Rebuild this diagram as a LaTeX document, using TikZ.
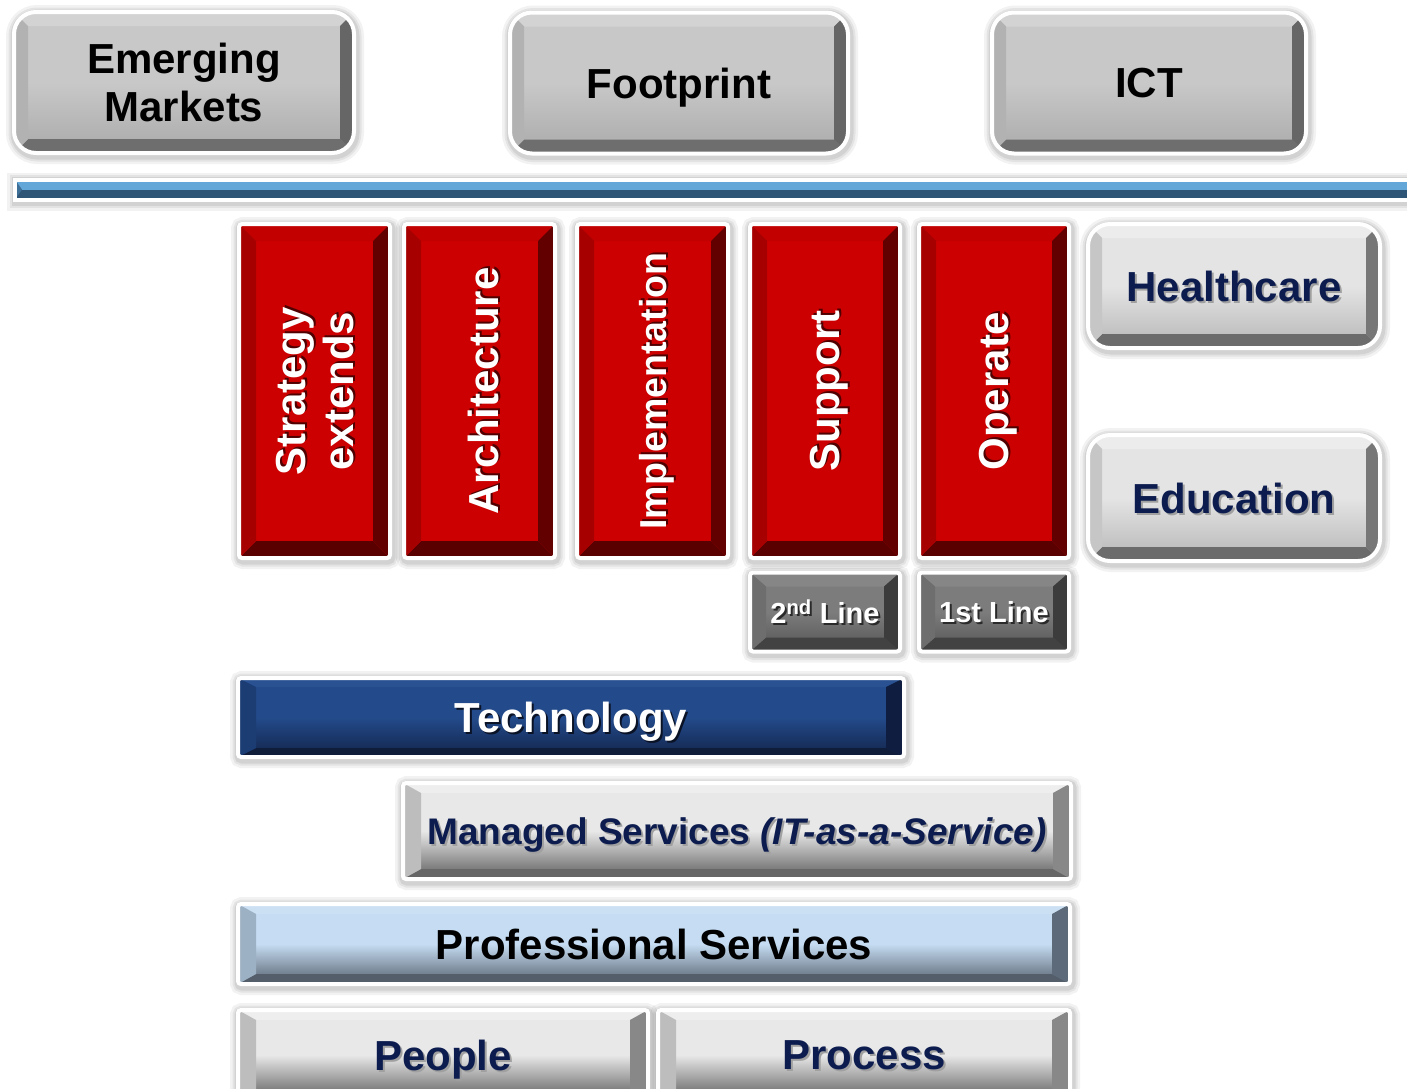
\documentclass[tikz,border=0pt]{standalone}
\usepackage{fontspec}
\setmainfont{Liberation Sans}
\usepackage{graphicx}
% colours
\definecolor{gface}{HTML}{C8C8C8}\definecolor{gtop}{HTML}{D3D3D3}\definecolor{gleft}{HTML}{B2B2B2}\definecolor{gright}{HTML}{666666}\definecolor{gbot}{HTML}{6E6E6E}
\definecolor{hface}{HTML}{E4E4E4}\definecolor{htop}{HTML}{ECECEC}\definecolor{hleft}{HTML}{C6C6C6}\definecolor{hright}{HTML}{777777}\definecolor{hbot}{HTML}{6C6C6C}
\definecolor{rface}{HTML}{CC0000}\definecolor{rtop}{HTML}{C20000}\definecolor{rleft}{HTML}{A60000}\definecolor{rright}{HTML}{620000}\definecolor{rbot}{HTML}{5A0000}\definecolor{rshadow}{HTML}{500000}
\definecolor{lface}{HTML}{7C7C7C}\definecolor{lface2}{HTML}{555555}\definecolor{ltop}{HTML}{868686}\definecolor{lleft}{HTML}{6E6E6E}\definecolor{lright}{HTML}{3C3C3C}\definecolor{lbot}{HTML}{424242}
\definecolor{tface}{HTML}{234A8A}\definecolor{tface2}{HTML}{12244A}\definecolor{ttop}{HTML}{2A5292}\definecolor{tleft}{HTML}{1C3C74}\definecolor{tright}{HTML}{0F1E40}\definecolor{tbot}{HTML}{0F1C3A}
\definecolor{mface}{HTML}{E8E8E8}\definecolor{mface2}{HTML}{5E5E5E}\definecolor{mtop}{HTML}{EEEEEE}\definecolor{mleft}{HTML}{BDBDBD}\definecolor{mright}{HTML}{888888}\definecolor{mbot}{HTML}{666666}
\definecolor{pface}{HTML}{C5DCF2}\definecolor{pface2}{HTML}{56616E}\definecolor{ptop}{HTML}{CCE0F4}\definecolor{pleft}{HTML}{9DB1C4}\definecolor{pright}{HTML}{5C6A79}\definecolor{pbot}{HTML}{545E6A}
\definecolor{barlight}{HTML}{63A7D9}\definecolor{bardark}{HTML}{2E5575}\definecolor{barleft}{HTML}{3D6F97}
\definecolor{navy}{HTML}{0C1C4F}\definecolor{navyshadow}{HTML}{A0A0A0}\definecolor{tshadow}{HTML}{0A1226}\definecolor{lshadow}{HTML}{2A2A2A}
\newcommand\shd[2]{\leavevmode\rlap{\kern2pt\raisebox{-2pt}{\textcolor{#1}{#2}}}#2}
\newcommand\vtext[1]{\rotatebox{90}{\raisebox{-5pt}[\height][\depth]{#1}}}
\tikzset{
  halo/.style={preaction={draw=black, draw opacity=0.05, line width=18pt, transform canvas={xshift=1pt,yshift=-2pt}},
               preaction={draw=black, draw opacity=0.06, line width=13pt, transform canvas={xshift=1pt,yshift=-2pt}},
               preaction={draw=black, draw opacity=0.07, line width=9pt, transform canvas={xshift=1pt,yshift=-2pt}}},
  base/.style={halo, draw=white, line width=4pt, inner sep=0pt, text depth=0pt},
  bev/.style n args={6}{path picture={
    \fill[#3, sharp corners] (path picture bounding box.north west) -- (path picture bounding box.north east)
      -- ([xshift=-#1pt,yshift=-#2pt]path picture bounding box.north east)
      -- ([xshift=#1pt,yshift=-#2pt]path picture bounding box.north west) -- cycle;
    \fill[#6, sharp corners] (path picture bounding box.south west) -- (path picture bounding box.south east)
      -- ([xshift=-#1pt,yshift=#2pt]path picture bounding box.south east)
      -- ([xshift=#1pt,yshift=#2pt]path picture bounding box.south west) -- cycle;
    \fill[#4, sharp corners] (path picture bounding box.north west) -- (path picture bounding box.south west)
      -- ([xshift=#1pt,yshift=#2pt]path picture bounding box.south west)
      -- ([xshift=#1pt,yshift=-#2pt]path picture bounding box.north west) -- cycle;
    \fill[#5, sharp corners] (path picture bounding box.north east) -- (path picture bounding box.south east)
      -- ([xshift=-#1pt,yshift=#2pt]path picture bounding box.south east)
      -- ([xshift=-#1pt,yshift=-#2pt]path picture bounding box.north east) -- cycle;
  }},
  f42/.style={font=\fontsize{42}{48}\selectfont\bfseries},
  graybtn/.style={base, rounded corners=22pt, top color=gface, bottom color=gface!85!black, middle color=gface,
    bev={14}{14}{gtop}{gleft}{gright}{gbot}, f42, text=black, align=center},
  sectorbtn/.style={base, rounded corners=22pt, top color=hface, bottom color=hface!80!black, middle color=hface,
    bev={14}{14}{htop}{hleft}{hright}{hbot}, f42, text=navy},
  redbar/.style={base, rounded corners=3pt, fill=rface,
    bev={17}{17}{rtop}{rleft}{rright}{rbot}, f42, text=white},
  linebox/.style={base, rounded corners=3pt, top color=lface, bottom color=lface2, middle color=lface,
    bev={16}{14}{ltop}{lleft}{lright}{lbot}, text=white, font=\fontsize{29}{34}\selectfont\bfseries},
  techbar/.style={base, rounded corners=3pt, top color=tface, bottom color=tface2, middle color=tface,
    bev={18}{9}{ttop}{tleft}{tright}{tbot}, f42, text=white},
  greybar/.style={base, rounded corners=3pt, top color=mface, bottom color=mface2, middle color=mface,
    bev={18}{10}{mtop}{mleft}{mright}{mbot}, f42, text=navy},
  profbar/.style={base, rounded corners=3pt, top color=pface, bottom color=pface2, middle color=pface,
    bev={18}{10}{ptop}{pleft}{pright}{pbot}, f42, text=black},
  bluebar/.style={base, fill=barlight, path picture={
    \fill[bardark] (path picture bounding box.west) rectangle (path picture bounding box.south east);
    \fill[barleft] (path picture bounding box.north west) -- ([xshift=7pt]path picture bounding box.west)
      -- (path picture bounding box.south west) -- cycle;}},
}
\begin{document}
\begin{tikzpicture}[x=1pt,y=-1pt]
\useasboundingbox (0,0) rectangle (1407,1088);
\fill[white] (0,0) rectangle (1407,1088);

% top category buttons
\node[graybtn, minimum width=340pt, minimum height=141pt] (emerging) at (184,82.5) {Emerging\\Markets};
\node[graybtn, minimum width=338pt, minimum height=141pt] (footprint) at (679,83) {Footprint};
\node[graybtn, minimum width=314pt, minimum height=141pt] (ict) at (1149,83) {ICT};

% divider bar
\node[bluebar, minimum width=1410pt, minimum height=20pt] (divider) at (720,189.5) {};

% red service pillars
\node[redbar, minimum width=151pt, minimum height=334pt] (strategy) at (314.5,391)
  {\vtext{\begin{tabular}{@{}c@{}}\shd{rshadow}{Strategy}\\\shd{rshadow}{extends}\end{tabular}}};
\node[redbar, minimum width=151pt, minimum height=334pt] (architecture) at (479.5,391)
  {\vtext{\shd{rshadow}{Architecture}}};
\node[redbar, minimum width=151pt, minimum height=334pt] (implementation) at (652.5,391)
  {\vtext{\fontsize{37.5}{44}\selectfont\shd{rshadow}{Implementation}}};
\node[redbar, minimum width=150pt, minimum height=334pt] (support) at (825,391)
  {\vtext{\shd{rshadow}{Support}}};
\node[redbar, minimum width=150pt, minimum height=334pt] (operate) at (994,391)
  {\vtext{\shd{rshadow}{Operate}}};

% support lines
\node[linebox, minimum width=150pt, minimum height=79pt] (secondline) at (825,612)
  {\shd{lshadow}{2\textsuperscript{nd} Line}};
\node[linebox, minimum width=150pt, minimum height=79pt] (firstline) at (994,612)
  {\shd{lshadow}{1st Line}};

% sector buttons
\node[sectorbtn, minimum width=292pt, minimum height=124pt] (healthcare) at (1234,286) {\shd{navyshadow}{Healthcare}};
\node[sectorbtn, minimum width=292pt, minimum height=126pt] (education) at (1234,498) {\shd{navyshadow}{Education}};

% horizontal layers
\node[techbar, minimum width=666pt, minimum height=79pt] (technology) at (571,717.5) {\shd{tshadow}{Technology}};
\node[greybar, minimum width=668pt, minimum height=96pt, font=\fontsize{37}{44}\selectfont\bfseries] (managed) at (737,831)
  {\shd{navyshadow}{Managed Services \textit{(IT-as-a-Service)}}};
\node[profbar, minimum width=832pt, minimum height=80pt] (professional) at (654,944) {Professional Services};
\node[greybar, minimum width=410pt, minimum height=90pt] (people) at (443,1055) {\shd{navyshadow}{People}};
\node[greybar, minimum width=412pt, minimum height=90pt] (process) at (864,1055) {\shd{navyshadow}{Process}};
\end{tikzpicture}
\end{document}
